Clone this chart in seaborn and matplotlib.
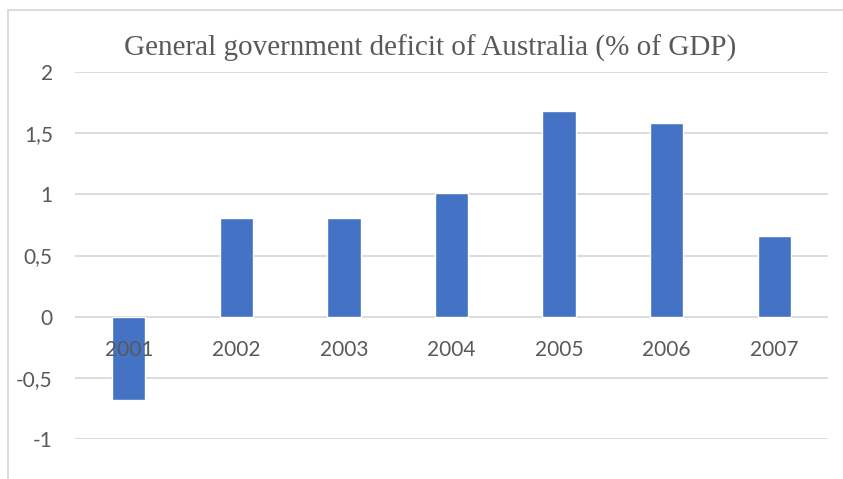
import numpy as np
import pandas as pd
import matplotlib
matplotlib.use("Agg")
import matplotlib.pyplot as plt
from matplotlib.patches import Rectangle
from matplotlib.ticker import FuncFormatter
import seaborn as sns

years = ["2001", "2002", "2003", "2004", "2005", "2006", "2007"]
deficit = [-0.68, 0.81, 0.81, 1.01, 1.68, 1.58, 0.66]
yticks = [-1, -0.5, 0, 0.5, 1, 1.5, 2]

df = pd.DataFrame({"year": years, "deficit": deficit})

sns.set_theme(style="white")
plt.rcParams['font.family'] = ['Lato', 'DejaVu Sans']

W, H = 843, 479
fig = plt.figure(figsize=(W / 100, H / 100), dpi=100)
ax = fig.add_axes([75 / W, (H - 439) / H, (828 - 75) / W, (439 - 72) / H])

# gridlines under the bars, tick labels above them (like excel)
for v in yticks:
    ax.axhline(v, color="#D9D9D9", linewidth=1.3, zorder=1)

sns.barplot(data=df, x="year", y="deficit", color="#4472C4", width=0.31,
            saturation=1, ax=ax, zorder=2)

ax.set_ylim(-1, 2)
ax.set_xlim(-0.5, len(years) - 0.5)
ax.set_yticks(yticks)
ax.yaxis.set_major_formatter(FuncFormatter(lambda v, p: ("%g" % v).replace(".", ",")))
ax.grid(False)
ax.set_axisbelow(False)
for s in ax.spines.values():
    s.set_visible(False)
ax.spines["bottom"].set_position(("data", 0))
ax.tick_params(axis="x", length=0, pad=17, labelsize=15, labelcolor="#595959")
ax.tick_params(axis="y", length=0, pad=16, labelsize=15, labelcolor="#595959")
ax.set_xlabel("")
ax.set_ylabel("")

fig.text(430 / W, 1 - 48 / H, "General government deficit of Australia (% of GDP)",
         ha="center", va="center", fontsize=21, color="#595959",
         family=["Liberation Serif", "DejaVu Serif"])

# chart area border (only top and left visible in the crop)
fig.patches.append(Rectangle((8 / W, -0.2), 1.5, (H - 10) / H + 0.2,
                             transform=fig.transFigure, fill=False,
                             edgecolor="#D9D9D9", linewidth=1.3))

fig.savefig("out.png", dpi=100)
